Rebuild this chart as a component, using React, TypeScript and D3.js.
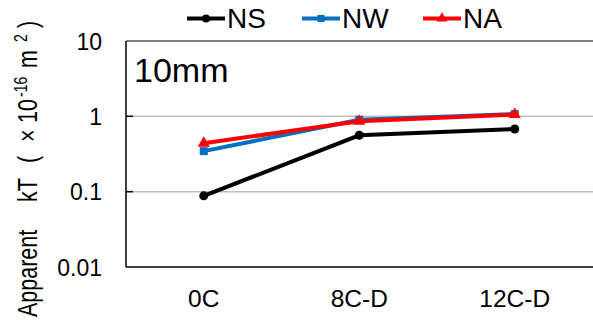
import React, { useEffect, useRef } from 'react'
import * as d3 from 'd3'

const categories = ['0C', '8C-D', '12C-D']
const nsValues = [0.088, 0.56, 0.68]
const nwValues = [0.345, 0.9, 1.07]
const naValues = [0.44, 0.86, 1.06]
const yTicks = [0.01, 0.1, 1, 10]

const W = 593, H = 320
const margin = { top: 41, right: 0.5, bottom: 53, left: 126 }
const font = 'Liberation Sans, Arial, sans-serif'

// y title pieces: text, start position along the rotated baseline, superscript flag
const titleParts: [string, number, boolean][] = [
  ['Apparent', 317, false],
  ['kT', 202, false],
  ['(', 163, false],
  ['\u00d7', 142, false],
  ['10', 123, false],
  ['-16', 97, true],
  ['m', 68, false],
  ['2', 42, true],
  [')', 28, false],
]

export default function App() {
  const ref = useRef<SVGSVGElement>(null)

  useEffect(() => {
    const svg = d3.select(ref.current)
    svg.selectAll('*').remove()

    const x = d3.scaleBand().domain(categories).range([margin.left, W - margin.right])
    const y = d3.scaleLog().domain([0.01, 10]).range([H - margin.bottom, margin.top])
    const cx = (d: string) => (x(d) as number) + x.bandwidth() / 2

    // gridlines
    svg.append('g')
      .selectAll('line')
      .data([0.1, 1])
      .join('line')
      .attr('x1', margin.left).attr('x2', W)
      .attr('y1', d => y(d)).attr('y2', d => y(d))
      .attr('stroke', '#c0c0c0').attr('stroke-width', 1.5)

    // small inner ticks
    svg.append('g')
      .selectAll('line')
      .data([0.1, 1])
      .join('line')
      .attr('x1', margin.left).attr('x2', margin.left + 7)
      .attr('y1', d => y(d)).attr('y2', d => y(d))
      .attr('stroke', '#000').attr('stroke-width', 1.5)

    // frame: top, left, bottom
    svg.append('line').attr('x1', margin.left).attr('x2', W).attr('y1', y(10)).attr('y2', y(10))
      .attr('stroke', '#000').attr('stroke-width', 1.2)
    svg.append('line').attr('x1', margin.left).attr('x2', W).attr('y1', y(0.01)).attr('y2', y(0.01))
      .attr('stroke', '#000').attr('stroke-width', 1.5)
    svg.append('line').attr('x1', margin.left).attr('x2', margin.left).attr('y1', y(10)).attr('y2', y(0.01))
      .attr('stroke', '#000').attr('stroke-width', 1.5)

    // y tick labels
    svg.append('g')
      .selectAll('text')
      .data(yTicks)
      .join('text')
      .attr('x', 102).attr('y', d => y(d) + 8.5)
      .attr('text-anchor', 'end')
      .style('font-family', font).style('font-size', '23px')
      .text(d => (d >= 1 ? d3.format('d')(d) : String(d)))

    // x tick labels
    svg.append('g')
      .selectAll('text')
      .data(categories)
      .join('text')
      .attr('x', d => cx(d)).attr('y', 307)
      .attr('text-anchor', 'middle')
      .style('font-family', font).style('font-size', '24.5px')
      .text(d => d)

    // y title (glyphs are a bit taller than wide in the original)
    const yt = svg.append('g')
      .attr('transform', 'translate(37,0) rotate(-90) scale(1,1.28)')
      .style('font-family', font)
    yt.selectAll('text')
      .data(titleParts)
      .join('text')
      .attr('x', d => -d[1])
      .attr('y', d => (d[2] ? -7.5 : 0))
      .style('font-size', d => (d[2] ? '14px' : '21.5px'))
      .text(d => d[0])

    // panel label
    svg.append('text').attr('x', 134).attr('y', 82)
      .style('font-family', font).style('font-size', '34px').text('10mm')

    const series = [
      { name: 'NS', values: nsValues, color: '#000000', marker: 'circle' },
      { name: 'NW', values: nwValues, color: '#0070c0', marker: 'square' },
      { name: 'NA', values: naValues, color: '#ff0000', marker: 'triangle' },
    ]

    const line = d3.line<number>()
      .x((_, i) => cx(categories[i]))
      .y(d => y(d))

    const symbolFor = (m: string) =>
      m === 'circle' ? d3.symbolCircle : m === 'square' ? d3.symbolSquare : d3.symbolTriangle

    series.forEach(s => {
      svg.append('path')
        .datum(s.values)
        .attr('d', line)
        .attr('fill', 'none')
        .attr('stroke', s.color)
        .attr('stroke-width', 4)
      svg.append('g')
        .selectAll('path')
        .data(s.values)
        .join('path')
        .attr('transform', (d, i) => `translate(${cx(categories[i])},${y(d)})`)
        .attr('d', d3.symbol().type(symbolFor(s.marker)).size(64)())
        .attr('fill', s.color)
    })

    // legend
    const legendX = [187, 302, 423]
    series.forEach((s, i) => {
      const g = svg.append('g').attr('transform', `translate(${legendX[i]},18.5)`)
      g.append('line').attr('x1', 0).attr('x2', 38).attr('y1', 0).attr('y2', 0)
        .attr('stroke', s.color).attr('stroke-width', 4)
      g.append('path')
        .attr('transform', 'translate(19,0)')
        .attr('d', d3.symbol().type(symbolFor(s.marker)).size(50)())
        .attr('fill', s.color)
      g.append('text').attr('x', 40).attr('y', 9)
        .style('font-family', font).style('font-size', '28px').text(s.name)
    })
  }, [])

  return (
    <svg ref={ref} width={W} height={H}
      style={{ position: 'absolute', left: 0, top: 0, background: '#fff' }} />
  )
}
